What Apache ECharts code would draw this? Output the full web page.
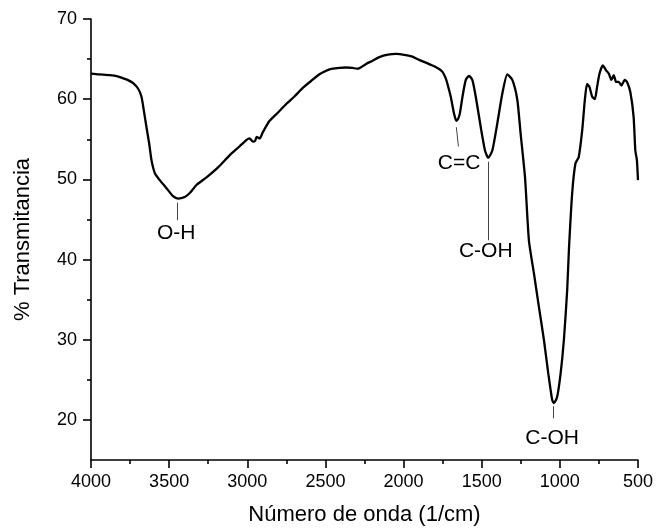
<!DOCTYPE html>
<html>
<head>
<meta charset="utf-8">
<script src="https://cdn.jsdelivr.net/npm/echarts@6/dist/echarts.min.js"></script>
<style>html,body{margin:0;padding:0;background:#fff}#c{width:656px;height:531px}</style>
</head>
<body>
<div id="c"></div>
<script>
// Wavenumber (1/cm) and % transmittance
const wavenumber = [4000,3950,3879,3830,3794,3760,3730,3698,3677,3662,3645,3628,3613,3591,3560,3517,3475,3443,3400,3368,3325,3261,3187,3113,3050,3006,2985,2964,2950,2940,2921,2900,2857,2800,2751,2700,2645,2590,2538,2490,2453,2411,2368,2326,2300,2283,2240,2198,2155,2100,2049,1985,1943,1900,1850,1815,1775,1751,1730,1719,1698,1677,1662,1650,1640,1623,1602,1581,1560,1538,1506,1479,1458,1432,1400,1368,1336,1304,1272,1251,1223,1198,1166,1134,1102,1074,1049,1038,1017,995,974,953,942,921,900,879,857,840,826,810,793,776,762,746,725,704,687,670,655,640,623,606,585,570,549,528,517,507,500];
const transmittance = [63.2,63.1,63.0,62.85,62.6,62.35,62.0,61.3,60.3,58.6,56.5,54.5,52.4,50.75,49.9,48.9,47.9,47.6,47.8,48.3,49.3,50.25,51.5,53.0,54.1,54.9,55.1,54.7,54.8,55.3,55.1,55.9,57.3,58.4,59.4,60.3,61.4,62.3,63.1,63.6,63.8,63.9,63.95,63.9,63.8,63.85,64.4,64.8,65.25,65.55,65.65,65.5,65.3,64.9,64.5,64.2,63.8,63.4,62.6,61.9,60.3,58.2,57.3,57.6,58.2,60.3,62.4,62.9,62.4,60.3,56.5,53.6,52.7,53.6,57.0,60.7,63.1,62.4,59.9,55.7,50.3,42.4,38.3,34.1,30.0,25.8,22.5,22.1,22.9,25.8,30.0,36.2,41.2,48.3,52.0,52.8,56.1,59.9,61.9,61.5,60.3,60.0,61.5,63.2,64.2,63.6,63.2,62.4,63.0,62.15,62.15,61.7,62.4,62.15,60.9,57.8,53.6,52.4,49.9];

// Tick values
const xTicks = [500,1000,1500,2000,2500,3000,3500,4000];
const yMajorTicks = [20,30,40,50,60,70];
const yMinorTicks = [25,35,45,55,65];

// Band annotations: label text, leader line ends, label position (data coords)
const annText  = ['O-H','C=C','C-OH','C-OH'];
const annLineX1 = [3450,1662,1461,1043];
const annLineY1 = [47.1,56.5,52.2,21.7];
const annLineX2 = [3450,1649,1461,1043];
const annLineY2 = [44.9,54.1,42.4,20.2];
const annLabelX = [3455,1645,1474,1049];
const annLabelY = [43.3,52.0,41.0,17.75];

const spectrum = wavenumber.map((w,i)=>[w,transmittance[i]]);
const leaders = annText.map((t,i)=>[{coord:[annLineX1[i],annLineY1[i]]},{coord:[annLineX2[i],annLineY2[i]]}]);
const labels = annText.map((t,i)=>({value:[annLabelX[i],annLabelY[i]],name:t}));

const font = 'Liberation Sans, Arial, sans-serif';
const chart = echarts.init(document.getElementById('c'), null, {renderer:'canvas'});
chart.setOption({
  animation:false,
  backgroundColor:'#fff',
  grid:{left:91,right:17,top:19,bottom:70,containLabel:false},
  xAxis:{
    type:'value', inverse:true, min:500, max:4000, interval:500,
    name:'Número de onda (1/cm)', nameLocation:'middle', nameGap:44,
    nameTextStyle:{fontFamily:font,fontSize:22,color:'#000'},
    axisLine:{show:true,lineStyle:{color:'#000',width:1.6}},
    axisTick:{show:true,inside:false,length:8,lineStyle:{color:'#000',width:1.6}},
    minorTick:{show:true,splitNumber:2,length:4,lineStyle:{color:'#000',width:1.6}},
    axisLabel:{fontFamily:font,fontSize:18,color:'#000',margin:13,customValues:xTicks,formatter:v=>String(v)},
    splitLine:{show:false}, minorSplitLine:{show:false}
  },
  yAxis:[{
    type:'value', min:15, max:70,
    name:'% Transmitancia', nameLocation:'middle', nameGap:57,
    nameTextStyle:{fontFamily:font,fontSize:22,color:'#000'},
    axisLine:{show:true,lineStyle:{color:'#000',width:1.6}},
    axisTick:{show:true,inside:false,length:8,customValues:yMajorTicks,lineStyle:{color:'#000',width:1.6}},
    axisLabel:{fontFamily:font,fontSize:18,color:'#000',margin:14,customValues:yMajorTicks,formatter:v=>String(v)},
    splitLine:{show:false}
  },{
    type:'value', min:15, max:70, position:'left',
    axisLine:{show:false},
    axisTick:{show:true,inside:false,length:4,customValues:yMinorTicks,lineStyle:{color:'#000',width:1.6}},
    axisLabel:{show:false},
    splitLine:{show:false}
  }],
  series:[{
    type:'line', data:spectrum, showSymbol:false, symbol:'none', smooth:0.2,
    lineStyle:{color:'#000',width:2.3}, z:3,
    markLine:{silent:true,symbol:['none','none'],label:{show:false},
      lineStyle:{color:'#444',width:1,type:'solid'},data:leaders}
  },{
    type:'scatter', data:labels, symbol:'circle', symbolSize:1,
    itemStyle:{color:'rgba(0,0,0,0)'}, silent:true,
    label:{show:true,position:'inside',formatter:'{b}',opacity:1,
      textBorderWidth:0,textShadowBlur:0,
      fontFamily:font,fontSize:21,color:'#000'}
  }]
});
</script>
</body>
</html>
